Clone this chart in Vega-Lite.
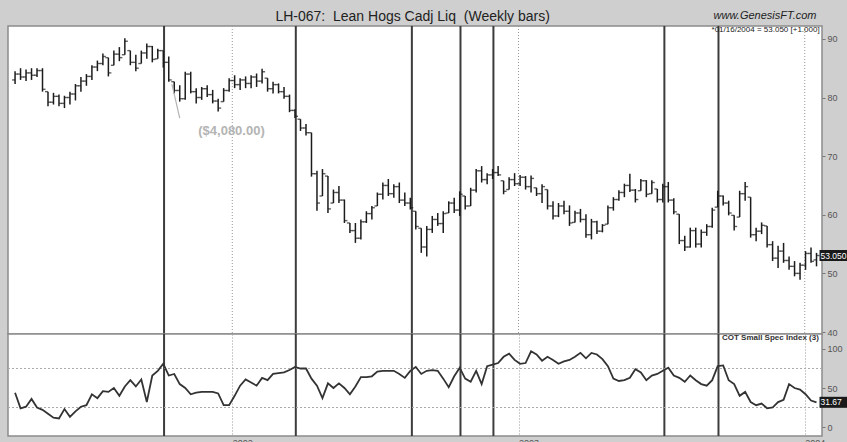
{
  "$schema": "https://vega.github.io/schema/vega-lite/v6.json",
  "background": "#cfcfcf",
  "padding": {"left": 6, "top": 9, "right": 0, "bottom": 0},
  "spacing": 0,
  "bounds": "flush",
  "config": {
    "font": "Liberation Sans",
    "view": {"fill": "white", "stroke": "#8c8c8c", "strokeWidth": 1.5},
    "axis": {"labelFont": "Liberation Sans", "labelColor": "#555555", "labelFontSize": 9, "tickColor": "#777777", "tickSize": 3, "domain": false, "grid": false, "title": null}
  },
  "datasets": {
    "w": [
      {"d":"2001-03-30","o":83.0,"h":84.5,"l":82.3,"c":84.0,"s":44},
      {"d":"2001-04-06","o":84.0,"h":85.0,"l":83.0,"c":83.5,"s":24},
      {"d":"2001-04-13","o":83.5,"h":84.8,"l":82.8,"c":84.2,"s":26},
      {"d":"2001-04-20","o":84.2,"h":85.0,"l":83.0,"c":83.8,"s":36},
      {"d":"2001-04-27","o":83.8,"h":85.0,"l":83.5,"c":84.6,"s":25},
      {"d":"2001-05-04","o":84.6,"h":85.0,"l":81.0,"c":81.4,"s":22},
      {"d":"2001-05-11","o":81.0,"h":81.0,"l":78.5,"c":79.2,"s":17},
      {"d":"2001-05-18","o":79.2,"h":80.8,"l":78.8,"c":80.2,"s":12},
      {"d":"2001-05-25","o":80.2,"h":80.5,"l":78.5,"c":79.0,"s":11},
      {"d":"2001-06-01","o":79.0,"h":80.3,"l":78.2,"c":80.0,"s":23},
      {"d":"2001-06-08","o":80.0,"h":81.0,"l":78.8,"c":80.6,"s":13},
      {"d":"2001-06-15","o":80.6,"h":82.3,"l":79.5,"c":82.0,"s":20},
      {"d":"2001-06-22","o":82.0,"h":83.5,"l":81.0,"c":82.8,"s":26},
      {"d":"2001-06-29","o":82.8,"h":84.0,"l":82.0,"c":83.6,"s":28},
      {"d":"2001-07-06","o":83.6,"h":85.5,"l":83.0,"c":85.2,"s":42},
      {"d":"2001-07-13","o":85.2,"h":86.3,"l":84.5,"c":85.8,"s":37},
      {"d":"2001-07-20","o":85.8,"h":87.5,"l":85.5,"c":87.0,"s":46},
      {"d":"2001-07-27","o":86.8,"h":86.8,"l":83.6,"c":84.2,"s":45},
      {"d":"2001-08-03","o":85.5,"h":88.0,"l":85.5,"c":87.4,"s":50},
      {"d":"2001-08-10","o":87.4,"h":88.6,"l":86.2,"c":86.8,"s":40},
      {"d":"2001-08-17","o":87.3,"h":90.1,"l":87.3,"c":89.6,"s":52},
      {"d":"2001-08-24","o":88.0,"h":88.0,"l":85.5,"c":86.0,"s":60},
      {"d":"2001-08-31","o":86.0,"h":87.3,"l":84.5,"c":85.0,"s":52},
      {"d":"2001-09-07","o":85.8,"h":88.0,"l":85.8,"c":87.6,"s":61},
      {"d":"2001-09-14","o":87.6,"h":89.2,"l":86.6,"c":88.7,"s":32},
      {"d":"2001-09-21","o":88.7,"h":88.8,"l":86.0,"c":86.5,"s":66},
      {"d":"2001-09-28","o":86.6,"h":88.3,"l":86.6,"c":88.0,"s":72},
      {"d":"2001-10-05","o":88.0,"h":88.0,"l":85.1,"c":86.0,"s":81},
      {"d":"2001-10-12","o":86.0,"h":87.0,"l":82.7,"c":83.0,"s":66},
      {"d":"2001-10-19","o":82.7,"h":82.7,"l":80.7,"c":81.2,"s":68},
      {"d":"2001-10-26","o":81.2,"h":82.1,"l":79.3,"c":79.8,"s":55},
      {"d":"2001-11-02","o":79.8,"h":84.4,"l":79.6,"c":84.0,"s":50},
      {"d":"2001-11-09","o":84.0,"h":84.4,"l":80.7,"c":81.0,"s":42},
      {"d":"2001-11-16","o":81.0,"h":81.6,"l":79.0,"c":80.0,"s":44},
      {"d":"2001-11-23","o":80.0,"h":81.8,"l":79.6,"c":81.5,"s":45},
      {"d":"2001-11-30","o":81.5,"h":82.1,"l":80.1,"c":80.5,"s":45},
      {"d":"2001-12-07","o":80.5,"h":81.3,"l":79.0,"c":79.4,"s":45},
      {"d":"2001-12-14","o":79.4,"h":79.8,"l":77.6,"c":78.2,"s":43},
      {"d":"2001-12-21","o":79.3,"h":81.6,"l":79.3,"c":81.2,"s":28},
      {"d":"2001-12-28","o":81.2,"h":83.3,"l":81.0,"c":82.9,"s":28},
      {"d":"2002-01-04","o":82.9,"h":83.8,"l":81.6,"c":82.2,"s":40},
      {"d":"2002-01-11","o":82.2,"h":83.3,"l":81.3,"c":83.0,"s":53},
      {"d":"2002-01-18","o":83.0,"h":83.6,"l":81.6,"c":82.4,"s":61},
      {"d":"2002-01-25","o":82.4,"h":83.8,"l":81.6,"c":83.5,"s":57},
      {"d":"2002-02-01","o":83.5,"h":84.1,"l":81.8,"c":82.8,"s":53},
      {"d":"2002-02-08","o":82.8,"h":84.9,"l":82.4,"c":84.4,"s":63},
      {"d":"2002-02-15","o":83.3,"h":83.3,"l":81.0,"c":81.5,"s":60},
      {"d":"2002-02-22","o":81.5,"h":82.7,"l":80.7,"c":82.2,"s":68},
      {"d":"2002-03-01","o":82.2,"h":82.4,"l":80.7,"c":81.0,"s":69},
      {"d":"2002-03-08","o":81.0,"h":81.8,"l":79.8,"c":80.2,"s":70},
      {"d":"2002-03-15","o":80.2,"h":80.5,"l":77.5,"c":77.8,"s":73},
      {"d":"2002-03-22","o":77.8,"h":78.0,"l":76.5,"c":76.8,"s":77},
      {"d":"2002-03-29","o":76.3,"h":76.3,"l":74.3,"c":74.8,"s":75},
      {"d":"2002-04-05","o":74.8,"h":75.5,"l":73.5,"c":74.0,"s":75},
      {"d":"2002-04-12","o":74.0,"h":74.0,"l":66.5,"c":67.0,"s":62},
      {"d":"2002-04-19","o":67.0,"h":67.5,"l":60.7,"c":62.0,"s":53},
      {"d":"2002-04-26","o":63.2,"h":67.8,"l":63.2,"c":67.0,"s":37},
      {"d":"2002-05-03","o":66.6,"h":66.6,"l":60.3,"c":61.0,"s":56},
      {"d":"2002-05-10","o":62.0,"h":64.3,"l":62.0,"c":63.8,"s":50},
      {"d":"2002-05-17","o":63.8,"h":64.9,"l":62.0,"c":62.5,"s":56},
      {"d":"2002-05-24","o":62.5,"h":62.6,"l":58.6,"c":59.0,"s":50},
      {"d":"2002-05-31","o":58.6,"h":58.6,"l":56.9,"c":57.3,"s":42},
      {"d":"2002-06-07","o":57.3,"h":58.6,"l":55.2,"c":56.0,"s":52},
      {"d":"2002-06-14","o":56.0,"h":59.2,"l":55.8,"c":58.8,"s":64},
      {"d":"2002-06-21","o":58.8,"h":60.6,"l":58.6,"c":60.2,"s":64},
      {"d":"2002-06-28","o":60.2,"h":61.5,"l":59.2,"c":61.2,"s":65},
      {"d":"2002-07-05","o":61.5,"h":63.8,"l":61.5,"c":63.5,"s":71},
      {"d":"2002-07-12","o":63.5,"h":65.5,"l":62.6,"c":65.0,"s":72},
      {"d":"2002-07-19","o":65.0,"h":66.1,"l":63.2,"c":63.6,"s":72},
      {"d":"2002-07-26","o":63.6,"h":65.2,"l":62.9,"c":64.8,"s":72},
      {"d":"2002-08-02","o":64.8,"h":65.5,"l":62.0,"c":62.5,"s":68},
      {"d":"2002-08-09","o":62.5,"h":63.8,"l":61.5,"c":62.0,"s":63},
      {"d":"2002-08-16","o":62.0,"h":62.9,"l":60.9,"c":61.2,"s":72},
      {"d":"2002-08-23","o":60.6,"h":60.6,"l":57.5,"c":58.0,"s":77},
      {"d":"2002-08-30","o":57.7,"h":57.7,"l":53.5,"c":54.5,"s":68},
      {"d":"2002-09-06","o":54.5,"h":58.1,"l":52.9,"c":57.5,"s":72},
      {"d":"2002-09-13","o":57.5,"h":59.8,"l":56.9,"c":59.2,"s":73},
      {"d":"2002-09-20","o":59.2,"h":60.3,"l":58.1,"c":58.5,"s":72},
      {"d":"2002-09-27","o":58.5,"h":60.6,"l":56.9,"c":60.2,"s":62},
      {"d":"2002-10-04","o":60.3,"h":62.3,"l":60.3,"c":62.0,"s":51},
      {"d":"2002-10-11","o":62.0,"h":62.9,"l":60.3,"c":60.8,"s":65},
      {"d":"2002-10-18","o":60.8,"h":64.0,"l":59.8,"c":63.5,"s":76},
      {"d":"2002-10-25","o":63.2,"h":63.2,"l":60.9,"c":61.5,"s":62},
      {"d":"2002-11-01","o":61.5,"h":64.6,"l":61.5,"c":64.2,"s":58},
      {"d":"2002-11-08","o":64.2,"h":67.8,"l":63.8,"c":67.5,"s":72},
      {"d":"2002-11-15","o":67.5,"h":68.3,"l":65.5,"c":66.0,"s":55},
      {"d":"2002-11-22","o":66.0,"h":67.1,"l":65.2,"c":66.8,"s":78},
      {"d":"2002-11-29","o":66.8,"h":67.8,"l":66.1,"c":67.2,"s":80},
      {"d":"2002-12-06","o":67.2,"h":68.3,"l":66.6,"c":66.8,"s":82},
      {"d":"2002-12-13","o":65.8,"h":65.8,"l":63.5,"c":64.0,"s":90},
      {"d":"2002-12-20","o":64.3,"h":66.4,"l":64.3,"c":66.0,"s":94},
      {"d":"2002-12-27","o":66.0,"h":67.1,"l":64.9,"c":65.3,"s":86},
      {"d":"2003-01-03","o":65.3,"h":66.8,"l":64.9,"c":66.4,"s":81},
      {"d":"2003-01-10","o":66.4,"h":66.6,"l":64.3,"c":64.8,"s":82},
      {"d":"2003-01-17","o":64.8,"h":66.7,"l":63.8,"c":66.2,"s":97},
      {"d":"2003-01-24","o":64.6,"h":64.6,"l":63.2,"c":63.6,"s":93},
      {"d":"2003-01-31","o":63.6,"h":65.2,"l":62.0,"c":64.8,"s":85},
      {"d":"2003-02-07","o":64.3,"h":64.3,"l":60.9,"c":61.5,"s":90},
      {"d":"2003-02-14","o":61.5,"h":62.3,"l":59.2,"c":59.8,"s":86},
      {"d":"2003-02-21","o":59.8,"h":62.0,"l":59.6,"c":61.5,"s":81},
      {"d":"2003-02-28","o":61.5,"h":62.4,"l":60.1,"c":60.6,"s":84},
      {"d":"2003-03-07","o":60.6,"h":61.6,"l":58.1,"c":58.6,"s":86},
      {"d":"2003-03-14","o":58.7,"h":60.7,"l":58.7,"c":60.3,"s":90},
      {"d":"2003-03-21","o":60.3,"h":61.0,"l":58.7,"c":59.2,"s":95},
      {"d":"2003-03-28","o":59.2,"h":60.1,"l":56.1,"c":56.6,"s":88},
      {"d":"2003-04-04","o":56.6,"h":59.3,"l":55.8,"c":58.8,"s":95},
      {"d":"2003-04-11","o":58.8,"h":59.0,"l":56.7,"c":57.2,"s":93},
      {"d":"2003-04-18","o":57.2,"h":58.4,"l":57.0,"c":58.2,"s":87},
      {"d":"2003-04-25","o":58.4,"h":61.6,"l":58.4,"c":61.2,"s":78},
      {"d":"2003-05-02","o":61.2,"h":63.0,"l":60.7,"c":62.6,"s":62},
      {"d":"2003-05-09","o":62.6,"h":64.2,"l":62.4,"c":63.8,"s":59},
      {"d":"2003-05-16","o":63.8,"h":65.3,"l":63.0,"c":65.0,"s":60},
      {"d":"2003-05-23","o":65.0,"h":67.0,"l":63.9,"c":64.2,"s":63},
      {"d":"2003-05-30","o":64.2,"h":64.4,"l":62.1,"c":62.6,"s":74},
      {"d":"2003-06-06","o":64.1,"h":66.1,"l":64.1,"c":65.8,"s":70},
      {"d":"2003-06-13","o":65.8,"h":65.9,"l":63.0,"c":63.5,"s":60},
      {"d":"2003-06-20","o":63.6,"h":65.9,"l":63.6,"c":65.5,"s":66},
      {"d":"2003-06-27","o":64.4,"h":64.4,"l":62.1,"c":62.6,"s":68},
      {"d":"2003-07-04","o":62.6,"h":65.3,"l":62.1,"c":64.8,"s":72},
      {"d":"2003-07-11","o":64.8,"h":65.6,"l":62.1,"c":62.5,"s":76},
      {"d":"2003-07-18","o":62.5,"h":62.8,"l":60.1,"c":60.5,"s":66},
      {"d":"2003-07-25","o":60.1,"h":60.1,"l":55.0,"c":55.6,"s":63},
      {"d":"2003-08-01","o":55.6,"h":56.4,"l":53.8,"c":54.5,"s":58},
      {"d":"2003-08-08","o":54.5,"h":57.8,"l":54.4,"c":57.3,"s":66},
      {"d":"2003-08-15","o":57.3,"h":57.8,"l":54.4,"c":55.0,"s":60},
      {"d":"2003-08-22","o":55.0,"h":57.5,"l":54.4,"c":57.0,"s":55},
      {"d":"2003-08-29","o":57.0,"h":58.4,"l":56.4,"c":58.0,"s":53},
      {"d":"2003-09-05","o":58.0,"h":61.2,"l":57.8,"c":60.8,"s":60},
      {"d":"2003-09-12","o":61.3,"h":64.1,"l":61.3,"c":63.2,"s":78},
      {"d":"2003-09-19","o":63.2,"h":63.3,"l":61.6,"c":62.0,"s":79},
      {"d":"2003-09-26","o":62.0,"h":62.4,"l":59.9,"c":60.3,"s":60},
      {"d":"2003-10-03","o":59.9,"h":59.9,"l":57.3,"c":58.0,"s":55},
      {"d":"2003-10-10","o":59.6,"h":64.1,"l":59.6,"c":63.6,"s":40},
      {"d":"2003-10-17","o":63.6,"h":65.6,"l":62.4,"c":64.8,"s":45},
      {"d":"2003-10-24","o":63.0,"h":63.0,"l":56.1,"c":56.6,"s":32},
      {"d":"2003-10-31","o":56.6,"h":57.8,"l":55.5,"c":57.2,"s":28},
      {"d":"2003-11-07","o":57.2,"h":58.7,"l":56.7,"c":58.2,"s":30},
      {"d":"2003-11-14","o":58.1,"h":58.1,"l":54.4,"c":54.9,"s":24},
      {"d":"2003-11-21","o":54.9,"h":55.5,"l":52.1,"c":52.6,"s":25},
      {"d":"2003-11-28","o":52.6,"h":54.7,"l":50.9,"c":53.8,"s":32},
      {"d":"2003-12-05","o":53.8,"h":55.2,"l":51.8,"c":52.2,"s":35},
      {"d":"2003-12-12","o":52.2,"h":52.9,"l":50.6,"c":51.2,"s":55},
      {"d":"2003-12-19","o":51.2,"h":52.1,"l":49.5,"c":50.0,"s":50},
      {"d":"2003-12-26","o":50.0,"h":51.8,"l":48.9,"c":51.4,"s":48},
      {"d":"2004-01-02","o":51.4,"h":53.8,"l":50.6,"c":53.4,"s":42},
      {"d":"2004-01-09","o":53.4,"h":54.4,"l":51.8,"c":52.05,"s":34},
      {"d":"2004-01-16","o":52.3,"h":53.5,"l":51.2,"c":53.05,"s":31.67}
    ],
    "ev": [
      {"d":"2001-10-06"},{"d":"2002-03-23"},{"d":"2002-08-18"},{"d":"2002-10-19"},
      {"d":"2002-11-30"},{"d":"2003-07-06"},{"d":"2003-09-13"}
    ],
    "yr": [
      {"d":"2002-01-01"},{"d":"2003-01-01"},{"d":"2004-01-01"}
    ]
  },
  "vconcat": [
    {
      "width": 814,
      "height": 308,
      "encoding": {
        "x": {
          "field": "d", "type": "temporal",
          "scale": {"type": "utc", "domain": [{"year":2001,"month":3,"date":21,"utc":true},{"year":2004,"month":1,"date":23,"utc":true}]},
          "axis": null
        }
      },
      "layer": [
        {
          "data": {"name": "yr"},
          "mark": {"type": "rule", "color": "#999999", "strokeDash": [1,2], "strokeWidth": 1},
          "encoding": {}
        },
        {
          "data": {"name": "ev"},
          "mark": {"type": "rule", "color": "#3c3c3c", "strokeWidth": 2},
          "encoding": {}
        },
        {
          "data": {"name": "w"},
          "mark": {"type": "rule", "color": "#1c1c1c", "strokeWidth": 1.5},
          "encoding": {
            "y": {"field": "l", "type": "quantitative", "scale": {"domain": [39.66, 92.2], "nice": false, "zero": false},
                  "axis": {"orient": "right", "values": [40,45,50,55,60,65,70,75,80,85,90], "labelPadding": 2}},
            "y2": {"field": "h"}
          }
        },
        {
          "data": {"name": "w"},
          "mark": {"type": "tick", "orient": "horizontal", "size": 3, "thickness": 1.4, "xOffset": -1.5, "color": "#1c1c1c"},
          "encoding": {"y": {"field": "o", "type": "quantitative"}}
        },
        {
          "data": {"name": "w"},
          "mark": {"type": "tick", "orient": "horizontal", "size": 3, "thickness": 1.4, "xOffset": 1.5, "color": "#1c1c1c"},
          "encoding": {"y": {"field": "c", "type": "quantitative"}}
        },
        {
          "data": {"values": [{"d": "2001-10-16", "d2": "2001-10-26", "p": 82.3, "p2": 76.5}]},
          "mark": {"type": "rule", "color": "#b4b4b4", "strokeWidth": 1.2},
          "encoding": {
            "x2": {"field": "d2"},
            "y": {"field": "p", "type": "quantitative"},
            "y2": {"field": "p2"}
          }
        },
        {
          "data": {"values": [{"d": "2001-12-31", "p": 74.3, "t": "($4,080.00)"}]},
          "mark": {"type": "text", "fontSize": 13, "fontWeight": "bold", "color": "#b4b4b4", "align": "center", "baseline": "middle"},
          "encoding": {
            "y": {"field": "p", "type": "quantitative"},
            "text": {"field": "t"}
          }
        },
        {
          "data": {"values": [{"d": "2002-08-19", "p": 93.7, "t": "LH-067:\u00a0 Lean Hogs Cadj Liq\u00a0 (Weekly bars)"}]},
          "mark": {"type": "text", "fontSize": 14, "color": "#222222", "align": "center", "baseline": "middle"},
          "encoding": {
            "y": {"field": "p", "type": "quantitative"},
            "text": {"field": "t"}
          }
        },
        {
          "data": {"values": [{"d": "2004-01-16", "p": 93.9, "t": "www.GenesisFT.com"}]},
          "mark": {"type": "text", "fontSize": 11, "fontStyle": "italic", "color": "#222222", "align": "right", "baseline": "middle"},
          "encoding": {
            "y": {"field": "p", "type": "quantitative"},
            "text": {"field": "t"}
          }
        },
        {
          "data": {"values": [{"d": "2004-01-20", "p": 91.5, "t": "*01/16/2004 = 53.050 [+1.000]"}]},
          "mark": {"type": "text", "fontSize": 8, "color": "#222222", "align": "right", "baseline": "middle"},
          "encoding": {
            "y": {"field": "p", "type": "quantitative"},
            "text": {"field": "t"}
          }
        },
        {
          "data": {"name": "w"},
          "transform": [{"filter": "datum.c === 53.05"}],
          "mark": {"type": "point", "shape": "M0,-0.38H2V0.38H0Z", "filled": true, "opacity": 1, "color": "#1a1a1a", "size": 841, "xOffset": 3},
          "encoding": {"y": {"field": "c", "type": "quantitative"}}
        },
        {
          "data": {"name": "w"},
          "transform": [{"filter": "datum.c === 53.05"}],
          "mark": {"type": "text", "fontSize": 8.5, "color": "white", "align": "left", "baseline": "middle", "dx": 4},
          "encoding": {"y": {"field": "c", "type": "quantitative"}, "text": {"field": "c", "type": "quantitative", "format": ".3f"}}
        }
      ]
    },
    {
      "width": 814,
      "height": 102,
      "encoding": {
        "x": {
          "field": "d", "type": "temporal",
          "scale": {"type": "utc", "domain": [{"year":2001,"month":3,"date":21,"utc":true},{"year":2004,"month":1,"date":23,"utc":true}]},
          "axis": {"values": [{"year":2002,"month":1,"date":1,"utc":true},{"year":2003,"month":1,"date":1,"utc":true},{"year":2004,"month":1,"date":1,"utc":true}],
                   "grid": true, "gridColor": "#999999", "gridDash": [1,2], "gridWidth": 1, "ticks": false, "domain": false,
                   "labelExpr": "utcFormat(datum.value, '%Y')", "labelAlign": "left", "labelPadding": 2, "labelFontSize": 9}
        }
      },
      "layer": [
        {
          "data": {"name": "ev"},
          "mark": {"type": "rule", "color": "#3c3c3c", "strokeWidth": 2},
          "encoding": {}
        },
        {
          "data": {"values": [{"g": 25}, {"g": 75}]},
          "mark": {"type": "rule", "color": "#aaaaaa", "strokeDash": [2,2], "strokeWidth": 1},
          "encoding": {"x": null, "y": {"field": "g", "type": "quantitative", "scale": {"domain": [-11.5, 119.2], "nice": false, "zero": false}}}
        },
        {
          "data": {"name": "w"},
          "mark": {"type": "line", "color": "#333333", "strokeWidth": 1.8},
          "encoding": {
            "y": {"field": "s", "type": "quantitative", "scale": {"domain": [-11.5, 119.2], "nice": false, "zero": false},
                  "axis": {"orient": "right", "values": [0, 50, 100], "labelPadding": 2}}
          }
        },
        {
          "data": {"values": [{"d": "2004-01-19", "p": 114, "t": "COT Small Spec Index (3)"}]},
          "mark": {"type": "text", "fontSize": 8, "fontWeight": "bold", "color": "#333333", "align": "right", "baseline": "middle"},
          "encoding": {
            "y": {"field": "p", "type": "quantitative"},
            "text": {"field": "t"}
          }
        },
        {
          "data": {"name": "w"},
          "transform": [{"filter": "datum.s === 31.67"}],
          "mark": {"type": "point", "shape": "M0,-0.38H2V0.38H0Z", "filled": true, "opacity": 1, "color": "#1a1a1a", "size": 841, "xOffset": 3},
          "encoding": {"y": {"field": "s", "type": "quantitative"}}
        },
        {
          "data": {"name": "w"},
          "transform": [{"filter": "datum.s === 31.67"}],
          "mark": {"type": "text", "fontSize": 8.5, "color": "white", "align": "left", "baseline": "middle", "dx": 4},
          "encoding": {"y": {"field": "s", "type": "quantitative"}, "text": {"field": "s", "type": "quantitative", "format": ".2f"}}
        }
      ]
    }
  ]
}
